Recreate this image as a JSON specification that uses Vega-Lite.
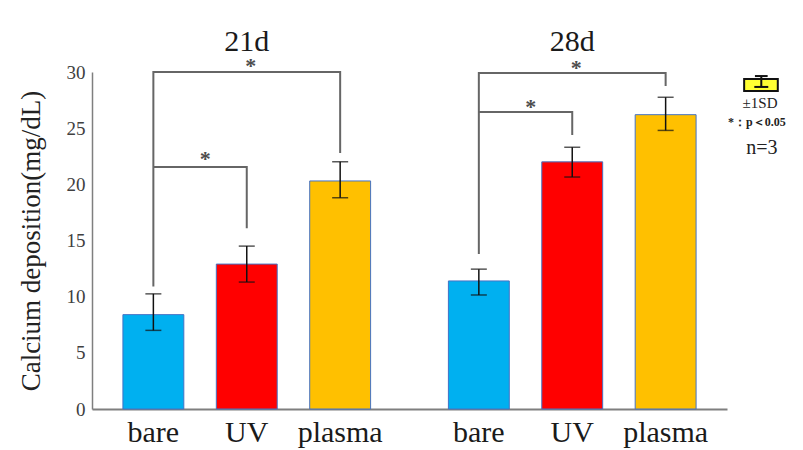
{
  "$schema": "https://vega.github.io/schema/vega-lite/v6.json",
  "autosize": "none",
  "width": 635,
  "height": 337,
  "padding": {"left": 92, "top": 72, "right": 76, "bottom": 41},
  "background": "white",
  "config": {"view": {"stroke": null}, "font": "Liberation Serif"},
  "datasets": {
    "bars": [
      {"day": "21d", "group": "bare", "mean": 8.4, "lower": 7.0, "upper": 10.25},
      {"day": "21d", "group": "UV", "mean": 12.9, "lower": 11.3, "upper": 14.5},
      {"day": "21d", "group": "plasma", "mean": 20.3, "lower": 18.8, "upper": 22.0},
      {"day": "28d", "group": "bare", "mean": 11.4, "lower": 10.15, "upper": 12.45},
      {"day": "28d", "group": "UV", "mean": 22.0, "lower": 20.65, "upper": 23.3},
      {"day": "28d", "group": "plasma", "mean": 26.2, "lower": 24.8, "upper": 27.75}
    ],
    "brackets": [
      {"bracket": "21d-outer", "day": "21d", "group": "bare", "value": 10.9, "ord": 1},
      {"bracket": "21d-outer", "day": "21d", "group": "bare", "value": 30.0, "ord": 2},
      {"bracket": "21d-outer", "day": "21d", "group": "plasma", "value": 30.0, "ord": 3},
      {"bracket": "21d-outer", "day": "21d", "group": "plasma", "value": 22.8, "ord": 4},
      {"bracket": "21d-inner", "day": "21d", "group": "bare", "value": 21.55, "ord": 1},
      {"bracket": "21d-inner", "day": "21d", "group": "UV", "value": 21.55, "ord": 2},
      {"bracket": "21d-inner", "day": "21d", "group": "UV", "value": 16.1, "ord": 3},
      {"bracket": "28d-outer", "day": "28d", "group": "bare", "value": 13.8, "ord": 1},
      {"bracket": "28d-outer", "day": "28d", "group": "bare", "value": 29.9, "ord": 2},
      {"bracket": "28d-outer", "day": "28d", "group": "plasma", "value": 29.9, "ord": 3},
      {"bracket": "28d-outer", "day": "28d", "group": "plasma", "value": 28.75, "ord": 4},
      {"bracket": "28d-inner", "day": "28d", "group": "bare", "value": 26.45, "ord": 1},
      {"bracket": "28d-inner", "day": "28d", "group": "UV", "value": 26.45, "ord": 2},
      {"bracket": "28d-inner", "day": "28d", "group": "UV", "value": 24.4, "ord": 3}
    ],
    "starsOuter": [
      {"day": "21d", "group": "UV", "value": 29.95},
      {"day": "28d", "group": "UV", "value": 29.7}
    ],
    "starsInner": [
      {"day": "21d", "group": "bare", "value": 21.6},
      {"day": "28d", "group": "bare", "value": 26.3}
    ],
    "days": [{"day": "21d"}, {"day": "28d"}]
  },
  "layer": [
    {
      "encoding": {
        "x": {
          "field": "day", "type": "nominal",
          "scale": {"domain": ["21d", "28d"], "paddingInner": 0.239, "paddingOuter": 0.095},
          "axis": {"labels": false, "ticks": false, "title": null, "domainColor": "#7f7f7f", "domainWidth": 2}
        },
        "y": {
          "type": "quantitative",
          "scale": {"domain": [0, 30], "nice": false, "zero": true},
          "axis": {
            "values": [0, 5, 10, 15, 20, 25, 30],
            "ticks": false, "tickSize": 0, "grid": false,
            "labelFont": "Liberation Serif", "labelFontSize": 19, "labelColor": "#404040", "labelPadding": 7,
            "domainColor": "#7f7f7f", "domainWidth": 1.5,
            "title": "Calcium deposition(mg/dL)",
            "titleFont": "Liberation Serif", "titleFontSize": 27, "titleFontWeight": "normal", "titleColor": "#222222",
            "titlePadding": 21
          }
        }
      },
      "layer": [
        {
          "data": {"name": "bars"},
          "mark": {"type": "bar", "stroke": "#4472C4", "strokeWidth": 1},
          "encoding": {
            "xOffset": {"field": "group", "type": "nominal", "scale": {"domain": ["bare", "UV", "plasma"], "paddingInner": 0.348, "paddingOuter": 0}},
            "y": {"field": "mean", "type": "quantitative"},
            "color": {"field": "group", "type": "nominal", "scale": {"domain": ["bare", "UV", "plasma"], "range": ["#00B0F0", "#FF0000", "#FFC000"]}, "legend": null}
          }
        },
        {
          "data": {"name": "bars"},
          "mark": {"type": "rule", "color": "#111111", "strokeWidth": 1.5},
          "encoding": {
            "xOffset": {"field": "group", "type": "nominal"},
            "y": {"field": "lower", "type": "quantitative"},
            "y2": {"field": "upper"}
          }
        },
        {
          "data": {"name": "bars"},
          "mark": {"type": "tick", "orient": "horizontal", "color": "#111111", "size": 16, "thickness": 1.5},
          "encoding": {
            "xOffset": {"field": "group", "type": "nominal"},
            "y": {"field": "upper", "type": "quantitative"}
          }
        },
        {
          "data": {"name": "bars"},
          "mark": {"type": "tick", "orient": "horizontal", "color": "#111111", "size": 16, "thickness": 1.5},
          "encoding": {
            "xOffset": {"field": "group", "type": "nominal"},
            "y": {"field": "lower", "type": "quantitative"}
          }
        },
        {
          "data": {"name": "brackets"},
          "mark": {"type": "line", "color": "#666666", "strokeWidth": 2},
          "encoding": {
            "xOffset": {"field": "group", "type": "nominal"},
            "y": {"field": "value", "type": "quantitative"},
            "detail": {"field": "bracket"},
            "order": {"field": "ord", "type": "quantitative"}
          }
        },
        {
          "data": {"name": "starsOuter"},
          "mark": {"type": "text", "text": "*", "fontSize": 22, "fontWeight": "bold", "color": "#4d4d4d", "baseline": "alphabetic", "align": "center", "dx": 4},
          "encoding": {
            "xOffset": {"field": "group", "type": "nominal"},
            "y": {"field": "value", "type": "quantitative"}
          }
        },
        {
          "data": {"name": "starsInner"},
          "mark": {"type": "text", "text": "*", "fontSize": 22, "fontWeight": "bold", "color": "#4d4d4d", "baseline": "alphabetic", "align": "center", "dx": 52},
          "encoding": {
            "xOffset": {"field": "group", "type": "nominal"},
            "y": {"field": "value", "type": "quantitative"}
          }
        },
        {
          "data": {"name": "bars"},
          "mark": {"type": "text", "fontSize": 30, "color": "#1a1a1a", "baseline": "alphabetic", "align": "center"},
          "encoding": {
            "xOffset": {"field": "group", "type": "nominal"},
            "y": {"datum": -2.95},
            "text": {"field": "group"}
          }
        },
        {
          "data": {"name": "days"},
          "mark": {"type": "text", "fontSize": 30, "color": "#1a1a1a", "baseline": "alphabetic", "align": "center"},
          "encoding": {
            "y": {"datum": 31.9},
            "text": {"field": "day"}
          }
        }
      ]
    },
    {
      "data": {"values": [{}]},
      "encoding": {
        "x": {"type": "quantitative", "scale": {"domain": [0, 100], "nice": false, "zero": false}, "axis": null}
      },
      "layer": [
        {
          "mark": {"type": "rect", "fill": "#FFFF33", "stroke": "#111111", "strokeWidth": 2},
          "encoding": {
            "x": {"datum": 102.7}, "x2": {"datum": 108.0},
            "y": {"datum": 28.31}, "y2": {"datum": 29.38}
          }
        },
        {
          "mark": {"type": "rule", "color": "#111111", "strokeWidth": 2},
          "encoding": {
            "x": {"datum": 105.4},
            "y": {"datum": 28.67}, "y2": {"datum": 29.64}
          }
        },
        {
          "mark": {"type": "rule", "color": "#111111", "strokeWidth": 2},
          "encoding": {
            "x": {"datum": 104.4}, "x2": {"datum": 106.4},
            "y": {"datum": 29.64}
          }
        },
        {
          "mark": {"type": "rule", "color": "#111111", "strokeWidth": 2},
          "encoding": {
            "x": {"datum": 104.3}, "x2": {"datum": 106.5},
            "y": {"datum": 28.67}
          }
        },
        {
          "mark": {"type": "text", "text": "±1SD", "fontSize": 15, "color": "#222222", "baseline": "middle", "align": "center"},
          "encoding": {"x": {"datum": 105.2}, "y": {"datum": 27.24}}
        },
        {
          "mark": {"type": "text", "text": "*：p＜0.05", "fontSize": 12, "fontWeight": "bold", "color": "#222222", "baseline": "middle", "align": "center"},
          "encoding": {"x": {"datum": 104.7}, "y": {"datum": 25.55}}
        },
        {
          "mark": {"type": "text", "text": "n=3", "fontSize": 20, "color": "#222222", "baseline": "middle", "align": "center"},
          "encoding": {"x": {"datum": 105.5}, "y": {"datum": 23.2}}
        }
      ]
    }
  ],
  "resolve": {"scale": {"x": "independent"}}
}
